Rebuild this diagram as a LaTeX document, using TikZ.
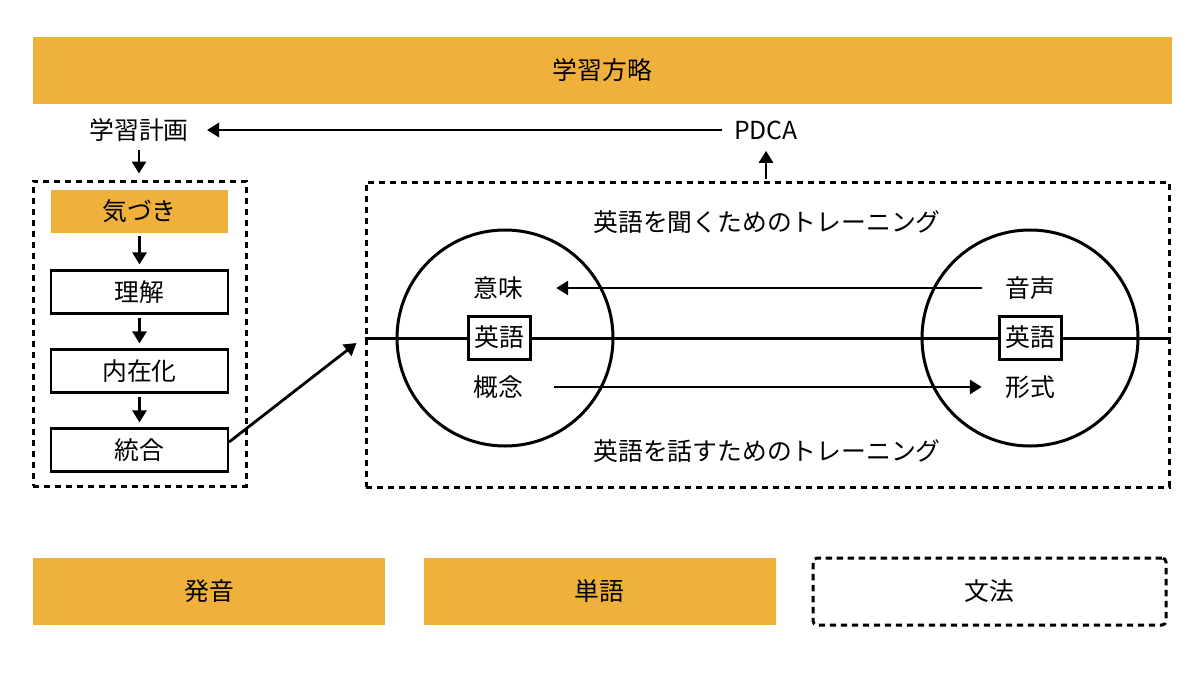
\documentclass[tikz,border=0pt]{standalone}
\usepackage{fontspec}
\setmainfont{Noto Sans CJK JP}
\usepackage{tikz}
\usetikzlibrary{arrows.meta}
\usetikzlibrary{calc,positioning,shapes}
\definecolor{planorange}{HTML}{F0B13C}
\tikzset{>=Triangle, node distance=-\pgflinewidth}

\begin{document}
\begin{tikzpicture}[x=0.5pt,y=-0.5pt]

	% Definitions.
	\tikzstyle{every node}=[
		inner sep=0pt,
		font=\fontsize{12.4}{14}\selectfont
	]
	\def\myarrow{Triangle[width=7pt,length=6pt]};
	\tikzstyle{bar}=[fill=planorange, minimum height=33.5pt]
	\tikzstyle{stepbox}=[draw, line width=1.1pt, minimum width=88.5pt, minimum height=21.5pt]
	\tikzstyle{groupbox}=[draw, line width=1.5pt, dash pattern=on 3.2pt off 2.3pt]
	\tikzstyle{flow}=[-{\myarrow}, line width=1.4pt]

	\useasboundingbox (0,0) rectangle (1200,675);

	% ---------- Header and Plan ---------

	\node[bar, minimum width=569.5pt] (strategy) at (602.5,70.5) {学習方略};
	\node (plan) at (139,130) {学習計画};
	\node (pdca) at (766,130) {PDCA};
	\draw[flow, shorten <=6pt, shorten >=9pt] (pdca.west) -- (plan.east);

	% ------------ Learning Steps -----------

	\node[groupbox, minimum width=106.5pt, minimum height=152.5pt] (steps) at (139.5,333.5) {};
	\node[fill=planorange, minimum width=88.5pt, minimum height=21.5pt] (notice) at (139.5,211.5) {気づき};
	\node[stepbox] (understand) at (139.5,292) {理解};
	\node[stepbox] (internalize) at (139.5,371) {内在化};
	\node[stepbox] (integrate) at (139.5,450) {統合};

	\draw[flow, shorten <=4pt, shorten >=3pt] (plan.south) -- (plan.south |- steps.north);
	\foreach \a/\b in {notice/understand, understand/internalize, internalize/integrate}
		\draw[flow, shorten <=1.5pt, shorten >=2.5pt] (\a) -- (\b);

	% ================== TRAINING ==================

	\node[groupbox, minimum width=401.5pt, minimum height=152.5pt] (train) at (767.5,334.5) {};
	\draw[flow, shorten <=1pt, shorten >=5.5pt] (train.north -| pdca) -- (pdca.south);
	\draw[flow] ([yshift=4pt]integrate.east) -- ([xshift=-4pt,yshift=-4.25pt]train.west);

	\node (listen) at (767,222) {英語を聞くためのトレーニング};
	\node (speak) at (767,451) {英語を話すためのトレーニング};

	% Circles and axis.
	\node[draw, circle, line width=1.5pt, minimum size=108pt] (lcircle) at (505,338) {};
	\node[draw, circle, line width=1.5pt, minimum size=108pt] (rcircle) at (1030,338) {};
	\draw[line width=1.5pt] (train.west |- lcircle) -- (train.east |- rcircle);

	\node[stepbox, fill=white, line width=1.5pt, minimum width=31pt] (lenglish) at (499,337.5) {英語};
	\node[stepbox, fill=white, line width=1.5pt, minimum width=31pt] (renglish) at (1030,337.5) {英語};

	% Meaning and sound.
	\node (meaning) at (498,288) {意味};
	\node (concept) at (498,387) {概念};
	\node (sound) at (1030,288) {音声};
	\node (form) at (1030,387) {形式};
	\draw[flow, shorten <=11.5pt, shorten >=16.5pt] (sound.west) -- (meaning.east);
	\draw[flow, shorten <=15.5pt, shorten >=11.5pt] (concept.east) -- (form.west);

	% ------------ Bottom Bars -----------

	\node[bar, minimum width=176pt] (pron) at (209,591.5) {発音};
	\node[bar, minimum width=176pt] (vocab) at (599.5,591.5) {単語};
	\node[groupbox, rounded corners=2pt, minimum width=176.5pt, minimum height=33.5pt] (grammar) at (989.5,591.5) {文法};

\end{tikzpicture}
\end{document}
